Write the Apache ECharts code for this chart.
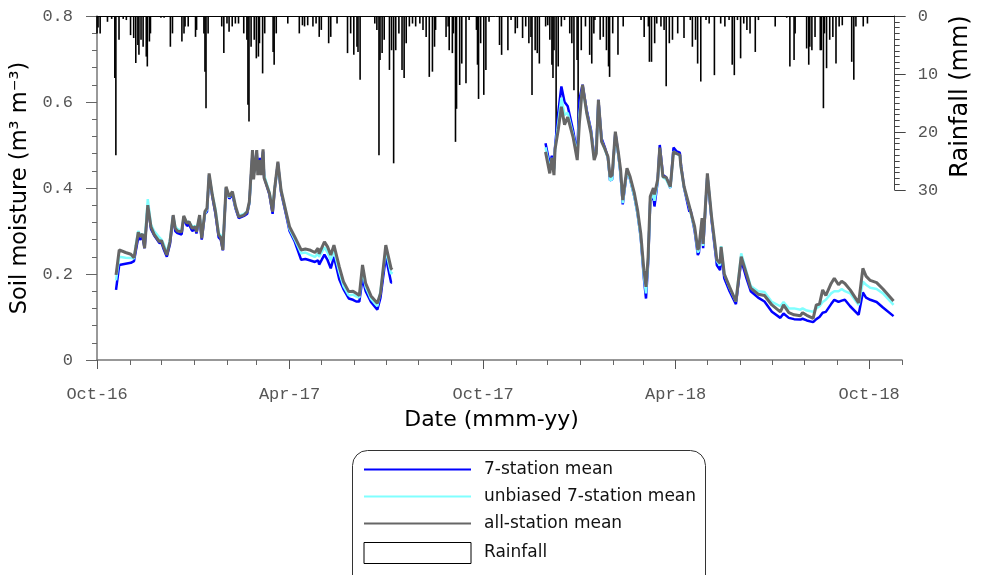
<!DOCTYPE html>
<html>
<head>
<meta charset="utf-8">
<script src="https://cdn.jsdelivr.net/npm/echarts@6/dist/echarts.min.js"></script>
<style>html,body{margin:0;padding:0;background:#fff}#c{width:981px;height:575px}</style>
</head>
<body>
<div id="c"></div>
<script>
// ---- soil moisture, period 1 (Oct 2016 - Jul 2017) ----
const dates1 = ['2016-10-19','2016-10-22','2016-10-28','2016-11-02','2016-11-05','2016-11-07','2016-11-09','2016-11-11','2016-11-13','2016-11-15',
'2016-11-18','2016-11-21','2016-11-24','2016-11-29','2016-12-01','2016-12-03','2016-12-06','2016-12-09','2016-12-12','2016-12-14',
'2016-12-16','2016-12-20','2016-12-22','2016-12-25','2016-12-27','2016-12-30','2017-01-02','2017-01-03','2017-01-06','2017-01-08',
'2017-01-11','2017-01-13','2017-01-15','2017-01-18','2017-01-21','2017-01-24','2017-01-26','2017-01-28','2017-01-31','2017-02-03',
'2017-02-06','2017-02-09','2017-02-12','2017-02-17','2017-02-20','2017-02-22','2017-02-25','2017-02-26','2017-03-01','2017-03-02',
'2017-03-04','2017-03-05','2017-03-07','2017-03-08','2017-03-13','2017-03-16','2017-03-18','2017-03-21','2017-03-24','2017-03-29',
'2017-04-01','2017-04-06','2017-04-12','2017-04-16','2017-04-20','2017-04-25','2017-04-28','2017-04-29','2017-05-04','2017-05-07',
'2017-05-10','2017-05-13','2017-05-18','2017-05-22','2017-05-27','2017-05-31','2017-06-03','2017-06-06','2017-06-09','2017-06-12',
'2017-06-17','2017-06-23','2017-06-26','2017-07-01','2017-07-06','2017-07-07'];
const allMean1 = [.198,.256,.25,.246,.238,.266,.297,.287,.293,.26,
.36,.31,.292,.275,.278,.263,.244,.275,.337,.306,
.30,.298,.335,.318,.322,.306,.31,.298,.337,.283,
.345,.353,.434,.384,.345,.291,.285,.256,.403,.38,
.392,.357,.333,.337,.345,.368,.488,.42,.488,.43,
.465,.43,.49,.423,.388,.345,.40,.461,.395,.341,
.31,.286,.256,.258,.256,.25,.26,.247,.275,.263,
.244,.267,.217,.182,.159,.16,.155,.15,.221,.178,
.149,.132,.155,.267,.213,.21];
const unbiased1 = [.185,.24,.238,.237,.236,.272,.30,.29,.293,.27,
.374,.315,.30,.285,.28,.27,.25,.28,.335,.31,
.305,.30,.333,.32,.322,.31,.312,.30,.335,.29,
.34,.35,.43,.385,.35,.295,.29,.262,.40,.378,
.39,.355,.335,.34,.345,.365,.475,.43,.47,.44,
.46,.44,.48,.43,.39,.35,.40,.455,.395,.34,
.305,.28,.248,.25,.245,.24,.248,.24,.262,.25,
.232,.255,.205,.172,.15,.152,.148,.145,.21,.17,
.142,.125,.16,.255,.20,.205];
const seven1 = [.163,.221,.224,.226,.23,.258,.285,.28,.287,.26,
.36,.305,.29,.272,.273,.258,.24,.27,.335,.30,
.295,.292,.33,.312,.315,.30,.305,.294,.332,.28,
.34,.345,.43,.38,.34,.285,.28,.255,.40,.375,
.385,.352,.33,.335,.34,.365,.48,.43,.485,.44,
.47,.44,.485,.425,.385,.34,.398,.458,.39,.335,
.30,.275,.233,.235,.232,.228,.232,.222,.245,.232,
.213,.24,.188,.165,.143,.14,.136,.136,.19,.16,
.135,.117,.145,.24,.18,.18];

// ---- soil moisture, period 2 (Nov 2017 - Oct 2018) ----
const dates2 = ['2017-11-29','2017-12-03','2017-12-05','2017-12-07','2017-12-08','2017-12-11','2017-12-14','2017-12-17','2017-12-20','2017-12-25',
'2017-12-29','2017-12-31','2018-01-03','2018-01-07','2018-01-11','2018-01-14','2018-01-16','2018-01-18','2018-01-21','2018-01-24',
'2018-01-27','2018-01-29','2018-01-31','2018-02-03','2018-02-06','2018-02-08','2018-02-10','2018-02-14','2018-02-17','2018-02-21',
'2018-02-24','2018-02-27','2018-03-02','2018-03-04','2018-03-06','2018-03-08','2018-03-11','2018-03-12','2018-03-15','2018-03-17',
'2018-03-20','2018-03-23','2018-03-27','2018-03-30','2018-04-02','2018-04-05','2018-04-06','2018-04-09','2018-04-14','2018-04-15',
'2018-04-19','2018-04-22','2018-04-23','2018-04-26','2018-04-27','2018-05-01','2018-05-05','2018-05-10','2018-05-13','2018-05-14',
'2018-05-17','2018-05-22','2018-05-28','2018-06-02','2018-06-07','2018-06-11','2018-06-18','2018-06-24','2018-07-01','2018-07-09',
'2018-07-12','2018-07-17','2018-07-22','2018-07-28','2018-07-30','2018-08-03','2018-08-09','2018-08-12','2018-08-15','2018-08-18',
'2018-08-21','2018-08-26','2018-08-29','2018-09-02','2018-09-05','2018-09-08','2018-09-13','2018-09-21','2018-09-25','2018-09-28',
'2018-10-02','2018-10-08','2018-10-14','2018-10-24'];
const allMean2 = [.484,.434,.47,.43,.49,.535,.589,.547,.565,.519,
.465,.55,.64,.574,.527,.465,.48,.605,.508,.492,
.473,.426,.43,.531,.48,.442,.372,.446,.426,.388,
.349,.295,.209,.17,.24,.38,.40,.385,.419,.494,
.426,.425,.403,.484,.48,.477,.45,.403,.357,.36,
.31,.256,.262,.33,.27,.434,.333,.233,.225,.263,
.20,.17,.136,.24,.20,.167,.153,.15,.128,.112,
.128,.11,.105,.103,.11,.104,.097,.128,.13,.163,
.15,.178,.19,.175,.183,.178,.163,.133,.213,.195,
.185,.18,.165,.137];
const unbiased2 = [.495,.445,.47,.44,.49,.55,.61,.57,.575,.525,
.475,.57,.635,.575,.53,.47,.485,.60,.51,.49,
.47,.418,.42,.525,.475,.43,.365,.44,.42,.38,
.34,.285,.195,.155,.23,.37,.39,.37,.415,.49,
.425,.42,.40,.485,.48,.475,.45,.40,.355,.355,
.305,.25,.255,.325,.265,.43,.33,.23,.22,.265,
.20,.168,.136,.248,.205,.172,.16,.158,.135,.125,
.135,.12,.12,.117,.12,.115,.112,.12,.125,.135,
.14,.155,.16,.16,.165,.16,.155,.128,.182,.175,
.168,.165,.155,.128];
const seven2 = [.504,.455,.475,.445,.495,.574,.636,.60,.59,.535,
.48,.605,.64,.58,.535,.475,.49,.605,.515,.495,
.47,.418,.42,.53,.475,.43,.362,.44,.42,.38,
.34,.285,.19,.143,.225,.37,.38,.357,.415,.50,
.43,.425,.40,.494,.485,.482,.455,.40,.345,.35,
.30,.244,.25,.32,.26,.43,.325,.22,.209,.255,
.19,.16,.13,.232,.19,.16,.145,.136,.112,.098,
.108,.098,.095,.094,.096,.092,.088,.095,.10,.11,
.112,.13,.14,.135,.138,.14,.125,.105,.157,.145,
.14,.135,.122,.102];

// ---- daily rainfall (mm), days with visible rain ----
const rainfall = [
['2016-10-01',3.0],['2016-10-02',2.0],['2016-10-04',3.0],['2016-10-11',1.0],['2016-10-15',0.5],['2016-10-18',10.7],['2016-10-19',24],['2016-10-22',4.1],['2016-10-26',0.5],['2016-10-29',0.7],
['2016-11-02',3.3],['2016-11-05',3.8],['2016-11-07',8.1],['2016-11-09',5.0],['2016-11-10',6.7],['2016-11-12',4.1],['2016-11-14',5.3],['2016-11-17',7.0],['2016-11-18',8.7],['2016-11-20',4.4],['2016-11-21',3.0],
['2016-12-01',0.3],['2016-12-04',0.3],['2016-12-10',5.3],['2016-12-12',3.0],['2016-12-21',4.4],['2016-12-23',3.0],['2016-12-24',1.8],['2016-12-27',1.8],
['2017-01-03',3.6],['2017-01-04',2.4],['2017-01-11',3.0],['2017-01-12',9.6],['2017-01-13',15.9],['2017-01-15',3.0],['2017-01-28',1.8],['2017-01-30',6.4],
['2017-02-02',1.3],['2017-02-04',2.7],['2017-02-07',1.8],['2017-02-10',1.3],['2017-02-13',1.3],['2017-02-18',3.0],['2017-02-21',4.1],['2017-02-22',15.3],['2017-02-23',18.2],['2017-02-25',5.3],['2017-02-28',4.1],
['2017-03-02',7.3],['2017-03-04',7.0],['2017-03-05',4.7],['2017-03-08',9.9],['2017-03-10',3.0],['2017-03-18',6.2],['2017-03-19',8.4],['2017-03-21',3.0],
['2017-04-01',1.3],['2017-04-12',3.0],['2017-04-15',1.6],['2017-04-17',1.8],['2017-04-20',1.6],['2017-04-25',1.8],['2017-04-28',1.3],
['2017-05-01',3.6],['2017-05-03',2.4],['2017-05-10',4.7],['2017-05-12',3.6],['2017-05-18',1.3],['2017-05-28',6.4],['2017-05-31',3.0],
['2017-06-03',6.7],['2017-06-06',5.3],['2017-06-07',6.2],['2017-06-09',11.0],['2017-06-23',1.3],['2017-06-25',2.4],['2017-06-27',24],['2017-06-28',7.6],['2017-06-30',6.4],
['2017-07-02',4.1],['2017-07-07',9.3],['2017-07-09',5.9],['2017-07-11',25.4],['2017-07-13',5.9],['2017-07-16',3.0],['2017-07-19',9.3],['2017-07-21',10.7],['2017-07-23',4.7],['2017-07-26',1.8],['2017-07-29',1.3],
['2017-08-01',1.8],['2017-08-05',1.3],['2017-08-08',2.4],['2017-08-11',3.6],['2017-08-14',10.5],['2017-08-17',9.6],['2017-08-19',5.3],['2017-08-20',2.4],['2017-08-30',3.6],
['2017-09-01',1.8],['2017-09-02',5.9],['2017-09-05',6.4],['2017-09-06',3.0],['2017-09-08',21.7],['2017-09-09',16.0],['2017-09-12',11.9],['2017-09-14',8.2],['2017-09-18',11.6],['2017-09-21',0.7],['2017-09-28',2.4],['2017-09-29',8.4],['2017-09-30',14.3],
['2017-10-02',4.7],['2017-10-05',13.6],['2017-10-07',9.3],['2017-10-10',1.0],['2017-10-20',5.0],['2017-10-22',6.7],['2017-10-28',5.9],['2017-10-31',0.7],
['2017-11-04',3.0],['2017-11-06',2.1],['2017-11-11',3.8],['2017-11-14',1.8],['2017-11-17',4.7],['2017-11-19',3.6],['2017-11-20',13.6],['2017-11-23',5.9],['2017-11-25',6.4],['2017-11-27',8.2],
['2017-12-03',1.8],['2017-12-05',1.6],['2017-12-07',4.1],['2017-12-09',8.4],['2017-12-10',10.7],['2017-12-11',5.9],['2017-12-13',20.5],['2017-12-15',8.7],['2017-12-18',1.8],['2017-12-21',0.7],['2017-12-26',3.0],['2017-12-28',4.7],['2017-12-30',12.8],
['2018-01-02',7.6],['2018-01-03',20.8],['2018-01-06',5.9],['2018-01-10',1.8],['2018-01-14',6.7],['2018-01-16',8.2],['2018-01-18',3.0],['2018-01-19',0.7],['2018-01-24',4.1],['2018-01-27',3.6],['2018-01-30',5.9],
['2018-02-01',8.7],['2018-02-02',10.5],['2018-02-05',3.0],['2018-02-10',6.7],['2018-02-15',1.8],
['2018-03-04',0.7],['2018-03-07',3.6],['2018-03-11',1.8],['2018-03-12',7.9],['2018-03-14',7.9],['2018-03-17',4.7],['2018-03-19',1.3],['2018-03-23',1.8],['2018-03-26',2.4],['2018-03-28',12.1],['2018-03-31',4.7],
['2018-04-03',4.1],['2018-04-08',3.0],['2018-04-14',3.8],['2018-04-20',0.7],['2018-04-22',5.3],['2018-04-25',4.1],['2018-04-27',8.2],['2018-04-30',11.3],
['2018-05-05',0.7],['2018-05-08',1.3],['2018-05-13',10.2],['2018-05-19',1.3],['2018-05-23',1.8],['2018-05-27',0.7],['2018-05-30',8.4],
['2018-06-01',10.2],['2018-06-04',0.7],['2018-06-07',7.3],['2018-06-10',1.3],['2018-06-13',2.4],['2018-06-16',3.0],['2018-06-21',6.2],['2018-06-24',0.7],
['2018-07-10',1.8],['2018-07-21',0.3],['2018-07-24',8.7],['2018-07-28',7.6],['2018-07-29',3.0],
['2018-08-09',5.6],['2018-08-11',8.4],['2018-08-12',5.3],['2018-08-14',5.9],['2018-08-17',3.6],['2018-08-22',5.9],['2018-08-23',5.9],['2018-08-25',15.9],['2018-08-26',3.0],['2018-08-28',9.0],['2018-08-31',4.1],
['2018-09-03',3.6],['2018-09-06',8.2],['2018-09-09',1.8],['2018-09-12',1.6],['2018-09-21',7.9],['2018-09-23',11.0],['2018-09-25',1.8],
['2018-10-02',1.8],['2018-10-06',1.3]
];

// ---- axis tick labels ----
const tickLabels = ['Oct-16','Apr-17','Oct-17','Apr-18','Oct-18'];
const tickDates = ['2016-10-01','2017-04-01','2017-10-01','2018-04-01','2018-10-01'];
const axisStart = '2016-10-01', axisEnd = '2018-11-01';

function ts(s){ const p = s.split('-'); return Date.UTC(+p[0], +p[1]-1, +p[2]); }
const majorTs = tickDates.map(ts);
const monthTs = [];
for (let k = 0; k <= 25; k++) monthTs.push(Date.UTC(2016, 9 + k, 1));
function build(d1, v1, d2, v2){
  const out = d1.map((d,i)=>[ts(d), v1[i]]);
  out.push([ts('2017-09-01'), null]);
  return out.concat(d2.map((d,i)=>[ts(d), v2[i]]));
}
const mono = 'Liberation Mono';
const sans = 'DejaVu Sans';
const grey = '#555';
const xMin = ts(axisStart), xMax = ts(axisEnd);
const hiddenSymbol = {opacity:0, borderWidth:0};

const chart = echarts.init(document.getElementById('c'), null, {renderer:'canvas'});
chart.setOption({
  animation:false,
  backgroundColor:'#fff',
  grid:[
    {left:97, right:79, top:16, bottom:215},
    {left:97, right:79, top:16, height:174}
  ],
  xAxis:[
    {gridIndex:0, type:'value', min:xMin, max:xMax, position:'bottom',
     axisLine:{lineStyle:{color:'#777', width:1.5}},
     axisTick:{customValues:monthTs, length:5, lineStyle:{color:'#666', width:1}},
     axisLabel:{customValues:majorTs, margin:26, fontFamily:mono, fontSize:17, color:grey,
       formatter:(v)=>{ const i = majorTs.indexOf(v); return i>=0 ? tickLabels[i] : ''; }},
     splitLine:{show:false},
     name:'Date (mmm-yy)', nameLocation:'middle', nameGap:49,
     nameTextStyle:{fontFamily:sans, fontSize:22, color:'#000', padding:[0,16,0,0]}},
    {gridIndex:0, type:'value', min:xMin, max:xMax, position:'bottom',
     axisLine:{show:false},
     axisTick:{customValues:majorTs, length:9, lineStyle:{color:'#555', width:1}},
     axisLabel:{show:false}, splitLine:{show:false}},
    {gridIndex:1, type:'value', min:xMin, max:xMax, position:'top',
     axisLine:{lineStyle:{color:'#000', width:1}},
     axisTick:{show:false}, axisLabel:{show:false}, splitLine:{show:false}}
  ],
  yAxis:[
    {gridIndex:0, type:'value', min:0, max:0.8, interval:0.2, position:'left',
     axisLine:{show:true, lineStyle:{color:'#777', width:1.5}},
     axisTick:{show:true, length:11, lineStyle:{color:'#666'}},
     minorTick:{show:true, splitNumber:5, length:5, lineStyle:{color:'#666'}},
     axisLabel:{margin:24, fontFamily:mono, fontSize:17, color:grey,
       formatter:(v)=> v===0 ? '0' : v.toFixed(1)},
     splitLine:{show:false},
     name:'Soil moisture (m³ m⁻³)', nameLocation:'middle', nameGap:57,
     nameTextStyle:{fontFamily:sans, fontSize:22.5, color:'#000'}},
    {gridIndex:1, type:'value', min:0, max:30, interval:10, inverse:true, position:'right',
     axisLine:{show:true, lineStyle:{color:'#444', width:1}},
     axisTick:{show:true, length:11, lineStyle:{color:'#444'}},
     minorTick:{show:true, splitNumber:10, length:5, lineStyle:{color:'#444'}},
     axisLabel:{margin:23, fontFamily:mono, fontSize:17, color:grey},
     splitLine:{show:false},
     name:'Rainfall (mm)', nameLocation:'middle', nameGap:53, nameRotate:90,
     nameTextStyle:{fontFamily:sans, fontSize:24, color:'#000', padding:[0,0,0,13]}}
  ],
  legend:{
    orient:'vertical', left:363, top:461, padding:0, itemWidth:107, itemHeight:21, itemGap:10,
    textStyle:{fontFamily:sans, fontSize:17, color:'#111', padding:[0,0,0,8]},
    data:[
      {name:'7-station mean', itemStyle:hiddenSymbol},
      {name:'unbiased 7-station mean', itemStyle:hiddenSymbol},
      {name:'all-station mean', itemStyle:hiddenSymbol},
      {name:'Rainfall', icon:'rect', itemStyle:{color:'#fff', borderColor:'#000', borderWidth:1}}
    ]
  },
  graphic:[{type:'rect', shape:{x:352.5, y:450.5, width:353, height:140, r:15}, style:{fill:'none', stroke:'#333', lineWidth:1}, z:10}],
  series:[
    {name:'7-station mean', type:'line', xAxisIndex:0, yAxisIndex:0, symbol:'none', connectNulls:false,
     lineStyle:{color:'#0000ff', width:2.5}, itemStyle:{color:'#0000ff'}, data:build(dates1, seven1, dates2, seven2)},
    {name:'unbiased 7-station mean', type:'line', xAxisIndex:0, yAxisIndex:0, symbol:'none', connectNulls:false,
     lineStyle:{color:'#80ffff', width:2.5}, itemStyle:{color:'#80ffff'}, data:build(dates1, unbiased1, dates2, unbiased2)},
    {name:'all-station mean', type:'line', xAxisIndex:0, yAxisIndex:0, symbol:'none', connectNulls:false,
     lineStyle:{color:'#666666', width:3}, itemStyle:{color:'#666666'}, data:build(dates1, allMean1, dates2, allMean2)},
    {name:'Rainfall', type:'bar', xAxisIndex:2, yAxisIndex:1, barWidth:1.6,
     itemStyle:{color:'#000'}, data:rainfall.map(r=>[ts(r[0]), r[1]])}
  ]
});
</script>
</body>
</html>
